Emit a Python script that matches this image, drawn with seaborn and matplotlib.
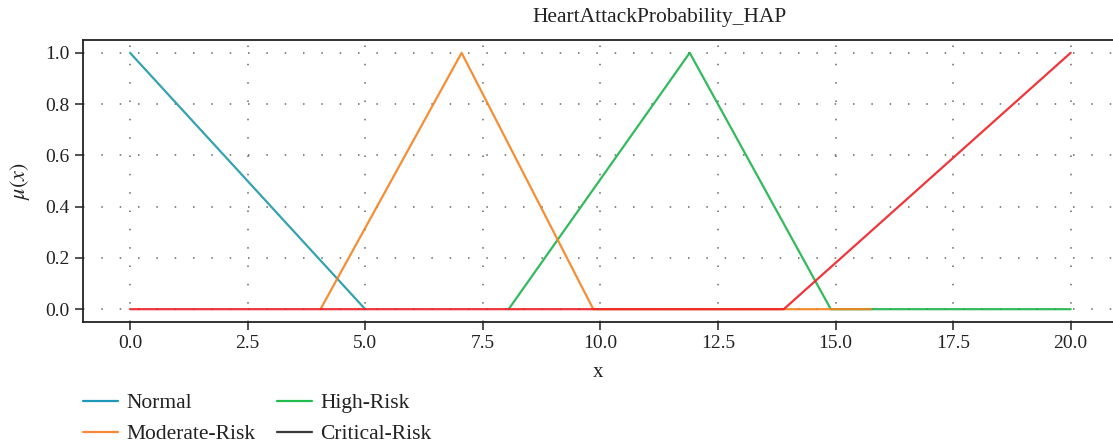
import numpy as np
import pandas as pd
import matplotlib
matplotlib.use("Agg")
import matplotlib.pyplot as plt
from matplotlib.lines import Line2D
import seaborn as sns

# ---- data ----
labels = ["Normal", "Moderate-Risk", "High-Risk", "Critical-Risk"]
normal_x = [0.0, 5.0]
normal_y = [1.0, 0.0]
moderate_x = [4.05, 7.05, 9.85, 15.75]
moderate_y = [0.0, 1.0, 0.0, 0.0]
high_x = [8.05, 11.9, 14.9, 20.0]
high_y = [0.0, 1.0, 0.0, 0.0]
critical_x = [0.0, 13.9, 20.0]
critical_y = [0.0, 0.0, 1.0]

line_colors = {"Normal": "#1f98a8", "Moderate-Risk": "#f5821f",
               "High-Risk": "#1db34b", "Critical-Risk": "#ee2027"}
legend_colors = {"Normal": "#1f98b8", "Moderate-Risk": "#f7883a",
                 "High-Risk": "#20bb4a", "Critical-Risk": "#3a3a3a"}
xticks = [0.0, 2.5, 5.0, 7.5, 10.0, 12.5, 15.0, 17.5, 20.0]
yticks = [0.0, 0.2, 0.4, 0.6, 0.8, 1.0]

series = {"Normal": (normal_x, normal_y), "Moderate-Risk": (moderate_x, moderate_y),
          "High-Risk": (high_x, high_y), "Critical-Risk": (critical_x, critical_y)}

sns.set_theme(style="ticks")
plt.rcParams["font.family"] = ["Liberation Serif", "DejaVu Serif"]
plt.rcParams["mathtext.fontset"] = "stix"

fig = plt.figure(figsize=(11.13, 4.45), dpi=100)
ax = fig.add_axes([83 / 1113, 123 / 445, (1113 - 83) / 1113, 282 / 445])

draw_order = ["Normal", "High-Risk", "Moderate-Risk", "Critical-Risk"]
for name in draw_order:
    xs, ys = series[name]
    df = pd.DataFrame({"x": xs, "y": ys})
    sns.lineplot(data=df, x="x", y="y", ax=ax, color=line_colors[name],
                 linewidth=1.6, sort=False, estimator=None, alpha=0.9)

ax.set_xlim(-1.0, 20.9)
ax.set_ylim(-0.05, 1.05)
ax.set_xticks(xticks)
ax.set_xticklabels([f"{t:.1f}" for t in xticks])
ax.set_yticks(yticks)
ax.set_yticklabels([f"{t:.1f}" for t in yticks])
ax.tick_params(axis="both", labelsize=14, length=6, width=1.2, color="#333333",
               labelcolor="#222222", direction="out")
ax.grid(True, color="#666666", linestyle=(0, (1, 11)), linewidth=1.1)
for s in ["left", "bottom", "top"]:
    ax.spines[s].set_color("#222222")
    ax.spines[s].set_linewidth(1.3)
ax.spines["right"].set_visible(False)

ax.set_xlabel("x", fontsize=15, color="#222222", labelpad=8)
ax.set_ylabel(r"$\mu(x)$", fontsize=16, color="#222222", labelpad=10)
ax.set_title("HeartAttackProbability_HAP", fontsize=15.5, color="#222222",
             x=(660 - 83) / (1113 - 83), pad=13)

handles = [Line2D([0], [0], color=legend_colors[n], linewidth=1.6) for n in labels]
fig.legend(handles, labels, ncol=2, loc="upper left", bbox_to_anchor=(64 / 1113, 1 - 374 / 445),
           frameon=False, fontsize=15.5, handlelength=1.6, columnspacing=1.0,
           labelspacing=0.5, handletextpad=0.4, labelcolor="#222222")

fig.savefig("out.png", dpi=100)
